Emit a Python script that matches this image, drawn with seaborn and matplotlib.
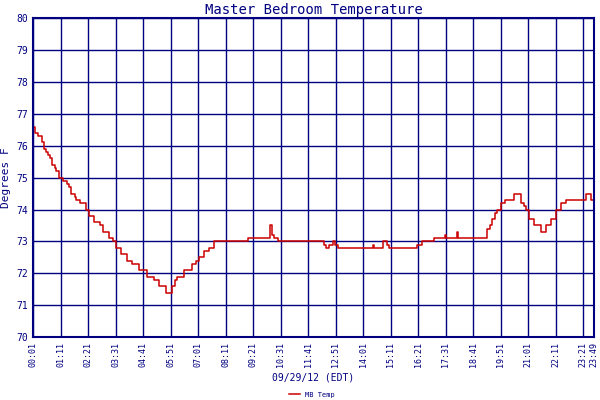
import matplotlib
matplotlib.use("Agg")
import matplotlib.pyplot as plt
import seaborn as sns
import pandas as pd
import numpy as np

px = [33,35,38,42,44,46,48,50,52,55,56,59,63,67,69,71,75,76,80,86,89,94,100,104,110,114,117,122,128,133,140,148,155,160,167,173,176,178,185,193,197,200,205,210,215,250,272,274,276,280,326,328,331,335,337,340,375,376,378,386,390,392,395,420,425,437,448,449,451,460,461,463,490,493,495,498,500,504,508,518,525,528,530,533,538,545,550,555,560,565,570,588,590,595,598]
temps = [76.6,76.4,76.3,76.1,75.9,75.8,75.7,75.6,75.4,75.3,75.2,75.0,74.9,74.8,74.7,74.5,74.4,74.3,74.2,74.0,73.8,73.6,73.5,73.3,73.1,73.0,72.8,72.6,72.4,72.3,72.1,71.9,71.8,71.6,71.4,71.6,71.8,71.9,72.1,72.3,72.4,72.5,72.7,72.8,73.0,73.1,73.5,73.2,73.1,73.0,72.9,72.8,72.9,73.0,72.9,72.8,72.9,72.8,72.8,73.0,72.9,72.8,72.8,72.9,73.0,73.1,73.2,73.1,73.1,73.3,73.1,73.1,73.4,73.5,73.7,73.9,74.0,74.2,74.3,74.5,74.2,74.1,74.0,73.7,73.5,73.3,73.5,73.7,74.0,74.2,74.3,74.3,74.5,74.3,74.3]
tick_labels = ["00:01","01:11","02:21","03:31","04:41","05:51","07:01","08:11","09:21","10:31","11:41",
               "12:51","14:01","15:11","16:21","17:31","18:41","19:51","21:01","22:11","23:21","23:49"]

minutes = [(p-33)*70/27.7 for p in px]
df = pd.DataFrame({"min": minutes, "temp": temps})

navy = "#000080"
plt.rcParams["font.family"] = "DejaVu Sans Mono"
fig = plt.figure(figsize=(6, 4), dpi=100)
ax = fig.add_axes([0.055, 0.157, 0.935, 0.798])
sns.lineplot(data=df, x="min", y="temp", drawstyle="steps-post", color="#cc0000",
             linewidth=1.1, ax=ax, label="MB Temp", legend=False)
ticks = list(np.arange(0, 1401, 70)) + [1428]
ax.set_xticks(ticks)
ax.set_xticklabels(tick_labels, rotation=90, fontsize=6, color=navy)
ax.set_xlim(0, 1428)
ax.set_ylim(70, 80)
ax.set_yticks(range(70, 81))
ax.tick_params(axis="y", labelsize=7, colors=navy, length=0)
ax.tick_params(axis="x", length=0, colors=navy)
ax.grid(True, color=navy, linewidth=1)
for s in ax.spines.values():
    s.set_color(navy); s.set_linewidth(1.5)
ax.set_xlabel("09/29/12 (EDT)", fontsize=7, color=navy)
ax.set_ylabel("Degrees F", fontsize=8, color=navy)
ax.set_title("Master Bedroom Temperature", fontsize=10, color=navy, pad=3)
fig.legend(loc="lower center", bbox_to_anchor=(0.52, -0.01), frameon=False, fontsize=5,
           handlelength=1.5, labelcolor=navy)
fig.savefig("out.png", dpi=100)
